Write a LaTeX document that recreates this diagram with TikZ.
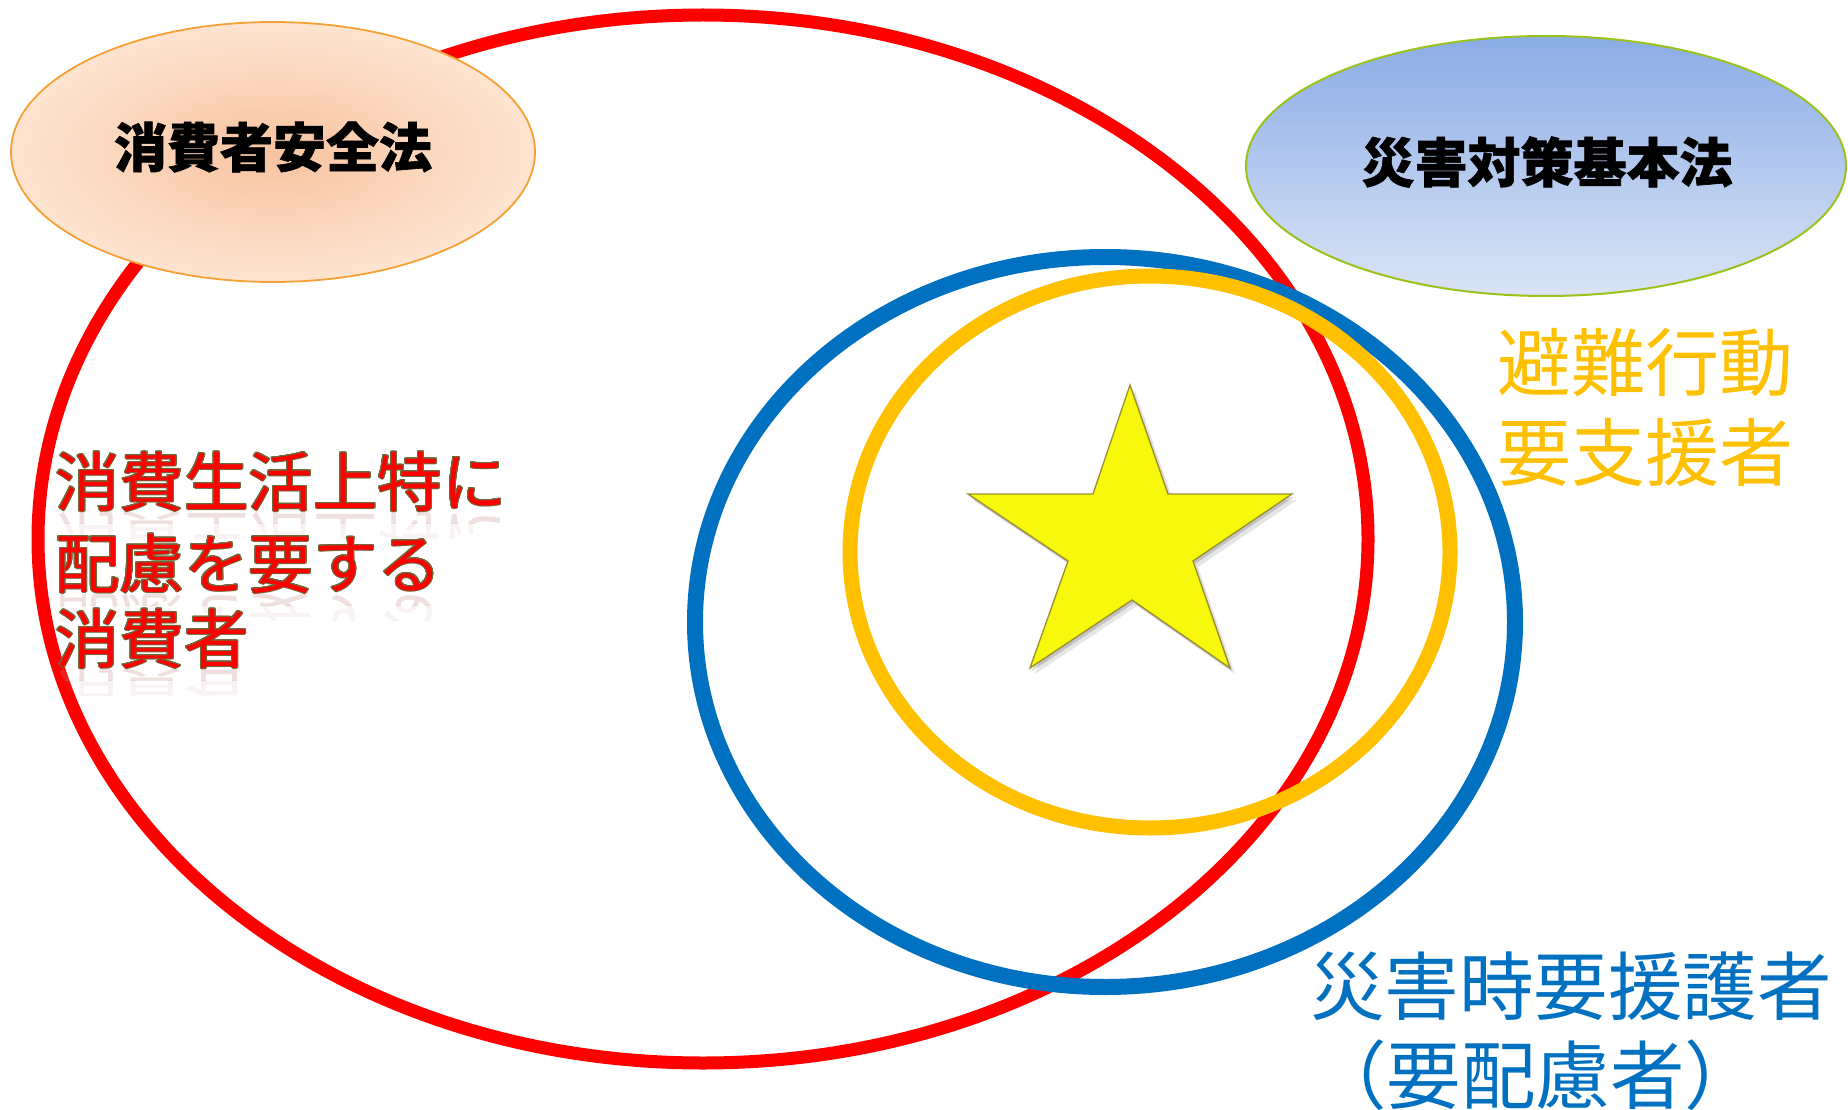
\documentclass[tikz,border=0pt]{standalone}
\usepackage{fontspec}
\newfontfamily\jp{Noto Sans CJK JP}
\newfontfamily\jpb{Noto Sans CJK JP}[BoldFeatures={FakeBold=1.2}]
\usepackage[copies]{contour}
\contourlength{1.0pt}
\contournumber{24}
\definecolor{ringred}{HTML}{FF0000}
\definecolor{ringblue}{HTML}{0070C0}
\definecolor{ringyellow}{HTML}{FFC000}
\definecolor{peachin}{HTML}{F7C3A0}
\definecolor{peachout}{HTML}{FEE4D0}
\definecolor{peachedge}{HTML}{F7A035}
\definecolor{lawtop}{HTML}{8AACE6}
\definecolor{lawbot}{HTML}{DBE4F6}
\definecolor{lawedge}{HTML}{99C31C}
\definecolor{olivedge}{HTML}{6E6A3C}
\definecolor{staryellow}{HTML}{F8F80C}
\definecolor{staredge}{HTML}{9A8F2E}
\definecolor{reflcol}{HTML}{C08080}
\newcommand\myrefl[4]{%
 \begin{scope}
  \clip (40,#2+5) rectangle (520,#2+17);
  \begin{scope}[cm={1,0,0,-1,(0,#3)}]
   \node[redtxt,transform shape,text=reflcol,opacity=0.25] (#1a) at (55,#2) {#4};
  \end{scope}
 \end{scope}
 \begin{scope}
  \clip (40,#2+17) rectangle (520,#2+32);
  \begin{scope}[cm={1,0,0,-1,(0,#3)}]
   \node[redtxt,transform shape,text=reflcol,opacity=0.1] (#1b) at (55,#2) {#4};
  \end{scope}
 \end{scope}}
\newcommand\starpath{(1130,385) -- (1168,494) -- (1292,494) -- (1193,561) -- (1230,668) -- (1132,600) -- (1030,668) -- (1068,561) -- (968,494) -- (1093,494) -- cycle}
\begin{document}
\begin{tikzpicture}[x=1pt,y=-1pt,
  title/.style={font={\jpb\bfseries\fontsize{53}{60}\selectfont}, text=black, inner sep=0pt},
  redtxt/.style={font={\jp\fontsize{64.5}{76}\selectfont}, text=ringred, inner sep=0pt, anchor=base west},
  yeltxt/.style={font={\jp\fontsize{74}{88}\selectfont}, text=ringyellow, inner sep=0pt, anchor=base west},
  bluetxt/.style={font={\jp\fontsize{74.5}{88}\selectfont}, text=ringblue, inner sep=0pt, anchor=base west}]
\useasboundingbox (0,0) rectangle (1848,1110);
\fill[white] (0,0) rectangle (1848,1110);
% big red ring
\draw[ringred, line width=13pt] (703,539) ellipse [x radius=665pt, y radius=524pt];
% law ellipses
\shade[inner color=peachin, outer color=peachout] (273,152) ellipse [x radius=262pt, y radius=130pt];
\draw[peachedge, line width=1.8pt] (273,152) ellipse [x radius=262pt, y radius=130pt];
\shade[top color=lawtop, bottom color=lawbot] (1546,166) ellipse [x radius=300pt, y radius=130pt];
\draw[lawedge, line width=2pt] (1546,166) ellipse [x radius=300pt, y radius=130pt];
% blue and yellow rings
\draw[ringblue, line width=16pt] (1105,622) ellipse [x radius=410pt, y radius=365pt];
\draw[ringyellow, line width=15pt] (1150,552) ellipse [x radius=300pt, y radius=276pt];
% star
\begin{scope}[shift={(5,6)}]
\fill[black, opacity=0.10] \starpath;
\end{scope}
\begin{scope}[shift={(2,3)}]
\fill[black, opacity=0.15] \starpath;
\end{scope}
\fill[staryellow, draw=staredge, line width=1.3pt, line join=miter] \starpath;
% titles
\node[title] (lawA) at (273,147) {消費者安全法};
\node[title] (lawB) at (1547,162) {災害対策基本法};
% red text reflections
\myrefl{rf1}{506}{1022}{消費生活上特に}
\myrefl{rf2}{588}{1186}{配慮を要する}
\myrefl{rf3}{663}{1336}{消費者}
% red text
\node[redtxt] (rl1) at (55,506) {\contour{olivedge}{消費生活上特に}};
\node[redtxt] (rl2) at (55,588) {\contour{olivedge}{配慮を要する}};
\node[redtxt] (rl3) at (55,663) {\contour{olivedge}{消費者}};
% yellow text
\node[yeltxt] (yl1) at (1497,390) {避難行動};
\node[yeltxt] (yl2) at (1497,480) {要支援者};
% blue text
\node[bluetxt] (bl1) at (1310,1014) {災害時要援護者};
\node[bluetxt] (bl2) at (1312,1103) {（要配慮者）};
\end{tikzpicture}
\end{document}
